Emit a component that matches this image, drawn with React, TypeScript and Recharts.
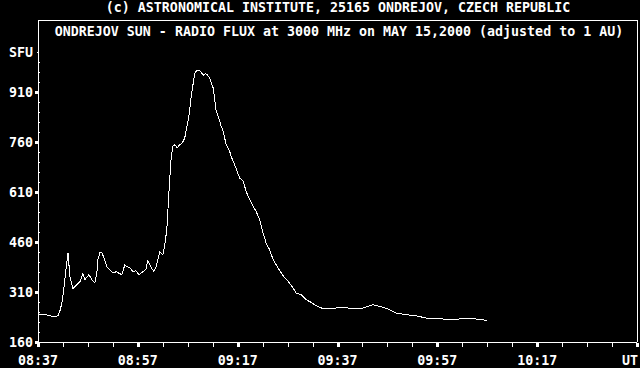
import React from 'react';
import { LineChart, Line, XAxis, YAxis } from 'recharts';

// minutes after 08:37 UT
const minutes = [
  0, 1.5, 3.4, 4, 4.4, 4.8, 5.2, 5.6, 6, 6.4, 7, 7.8, 8.4, 9, 9.4, 10.2, 10.8, 11.4, 11.8, 12,
  12.4, 12.8, 13.2, 13.8, 14.4, 15, 15.8, 16, 16.8, 17.4, 17.8, 18.4, 19, 19.6, 20.2, 21, 21.6,
  22, 22.6, 23.2, 23.6, 24, 24.4, 25, 25.4, 25.8, 26.2, 26.6, 26.8, 27, 27.4, 27.9, 28.4, 28.9,
  29.4, 29.7, 30.1, 30.4, 30.7, 31.1, 31.4, 31.9, 32.4, 32.7, 33.1, 33.5, 33.9, 34.4, 34.7, 35.1,
  35.4, 35.7, 36.1, 36.4, 36.7, 37.1, 37.4, 37.7, 38.1, 38.4, 38.7, 39.1, 39.4, 40.4, 41.1, 41.7,
  42.4, 43.1, 43.7, 44.4, 45.1, 45.7, 46.4, 47.1, 48.1, 49.1, 50.1, 51.1, 51.7, 52.7, 53.7, 54.7,
  55.7, 57.1, 58.7, 60.4, 62.1, 63.7, 65.1, 67.1, 68.4, 70.1, 71.7, 73.7, 75.7, 77.1, 78.4, 81.1,
  83.1, 85.1, 87.7, 89.9,
];
// radio flux, SFU
const flux = [
  244, 242, 235, 239, 254, 278, 323, 377, 428, 356, 320, 332, 341, 365, 347, 362, 347, 338, 368, 407,
  428, 428, 413, 386, 377, 368, 371, 368, 362, 392, 386, 383, 371, 374, 362, 371, 377,
  404, 386, 371, 383, 407, 431, 422, 452, 497, 600, 700, 725, 747, 752, 742, 752, 757,
  772, 797, 827, 857, 897, 937, 967, 975, 975, 969, 960, 965, 962, 952, 937, 922,
  887, 852, 837, 822, 807, 792, 772, 752, 742, 732, 717, 702, 692, 652, 642, 612,
  587, 567, 552, 527, 487, 457, 437, 407, 382, 359, 342, 322, 307, 302, 287, 279,
  269, 260, 259, 264, 262, 259, 262, 272, 267, 259, 247, 242, 239, 234, 230, 229,
  227, 230, 229, 225,
];

const xTicks = [0, 5, 10, 15, 20, 25, 30, 35, 40, 45, 50, 55, 60, 65, 70, 75, 80, 85, 90, 95, 100, 105, 110, 115, 120];
const xMajor = [0, 20, 40, 60, 80, 100, 120];
const xMajorLabels = ['08:37', '08:57', '09:17', '09:37', '09:57', '10:17', 'UT'];

const yTicks = [160, 190, 220, 250, 280, 310, 340, 370, 400, 430, 460, 490, 520, 550, 580, 610, 640, 670, 700, 730, 760, 790, 820, 850, 880, 910, 940, 970, 1000, 1030];
const yMajor = [160, 310, 460, 610, 760, 910];
const yUnitValue = 1030;
const yUnitLabel = 'SFU';

const topTitle = '(c) ASTRONOMICAL INSTITUTE, 25165 ONDREJOV, CZECH REPUBLIC';
const boxTitle = 'ONDREJOV SUN - RADIO FLUX at 3000 MHz on MAY 15,2000 (adjusted to 1 AU)';

const data = minutes.map((m, i) => ({ m, sfu: flux[i] }));

const FONT = '"DejaVu Sans Mono", monospace';
const textStyle = { fontFamily: FONT, fontSize: 13.3, fontWeight: 700 as const, fill: '#fff' };

const XTick = (props: any) => {
  const { x, y, payload } = props;
  const i = xMajor.indexOf(payload.value);
  const px = Math.round(x);
  if (i >= 0) {
    const last = i === xMajor.length - 1;
    return (
      <g>
        <rect x={px - 1} y={y + 1} width={3} height={4} fill="#fff" shapeRendering="crispEdges" />
        <text x={last ? x + 1 : x} y={y + 23} textAnchor={last ? 'end' : 'middle'} style={textStyle}>{xMajorLabels[i]}</text>
      </g>
    );
  }
  return <rect x={px} y={y + 1} width={1} height={4} fill="#fff" shapeRendering="crispEdges" />;
};

const TopTick = (props: any) => {
  const { x, y } = props;
  return <rect x={Math.round(x)} y={y + 1} width={1} height={1} fill="#fff" shapeRendering="crispEdges" />;
};

const YTick = (props: any) => {
  const { x, y, payload } = props;
  const py = Math.round(y);
  if (yMajor.includes(payload.value)) {
    return (
      <g>
        <rect x={x - 3} y={py - 1} width={3} height={3} fill="#fff" shapeRendering="crispEdges" />
        <text x={x - 5} y={py + 5} textAnchor="end" style={textStyle}>{payload.value}</text>
      </g>
    );
  }
  if (payload.value === yUnitValue) {
    return (
      <g>
        <rect x={x - 1} y={py} width={2} height={1} fill="#fff" shapeRendering="crispEdges" />
        <text x={x - 5} y={py + 5} textAnchor="end" style={textStyle}>{yUnitLabel}</text>
      </g>
    );
  }
  return <rect x={x + 1} y={py} width={1} height={1} fill="#fff" shapeRendering="crispEdges" />;
};

export default function App() {
  return (
    <div style={{ position: 'absolute', left: 0, top: 0, width: 640, height: 368, background: '#000', overflow: 'hidden' }}>
      <style>{'.recharts-cartesian-axis-line{shape-rendering:crispEdges}.recharts-line-curve{shape-rendering:crispEdges}'}</style>
      <LineChart width={640} height={368} data={data} margin={{ top: 43, right: 0, bottom: 0, left: 0 }}>
        <XAxis
          dataKey="m"
          type="number"
          domain={[0, 120]}
          ticks={xTicks}
          interval={0}
          height={26}
          tickSize={0}
          tickMargin={0}
          tickLine={false}
          axisLine={{ stroke: '#fff', strokeWidth: 1 }}
          tick={<XTick />}
          allowDataOverflow
        />
        <XAxis
          xAxisId="top"
          orientation="top"
          dataKey="m"
          type="number"
          domain={[0, 120]}
          ticks={xTicks}
          interval={0}
          height={0}
          tickSize={0}
          tickMargin={0}
          tickLine={false}
          axisLine={{ stroke: '#fff', strokeWidth: 1 }}
          tick={<TopTick />}
        />
        <YAxis
          type="number"
          domain={[160, 1057]}
          ticks={yTicks}
          interval={0}
          width={38}
          tickSize={0}
          tickMargin={0}
          tickLine={false}
          axisLine={{ stroke: '#fff', strokeWidth: 1 }}
          tick={<YTick />}
          allowDataOverflow
        />
        <YAxis
          yAxisId="right"
          orientation="right"
          type="number"
          domain={[0, 1]}
          width={3}
          tick={false}
          tickLine={false}
          axisLine={{ stroke: '#fff', strokeWidth: 1 }}
        />
        <Line
          type="linear"
          dataKey="sfu"
          stroke="#fff"
          strokeWidth={1}
          dot={false}
          isAnimationActive={false}
        />
      </LineChart>
      <svg width={640} height={368} style={{ position: 'absolute', left: 0, top: 0, pointerEvents: 'none' }}>
        <rect x={38} y={20} width={600} height={1} fill="#fff" />
        <rect x={38} y={20} width={1} height={24} fill="#fff" />
        <rect x={637} y={20} width={1} height={24} fill="#fff" />
        <text x={338} y={12} textAnchor="middle" style={textStyle}>{topTitle}</text>
        <text x={339} y={36} textAnchor="middle" style={textStyle}>{boxTitle}</text>
      </svg>
    </div>
  );
}
